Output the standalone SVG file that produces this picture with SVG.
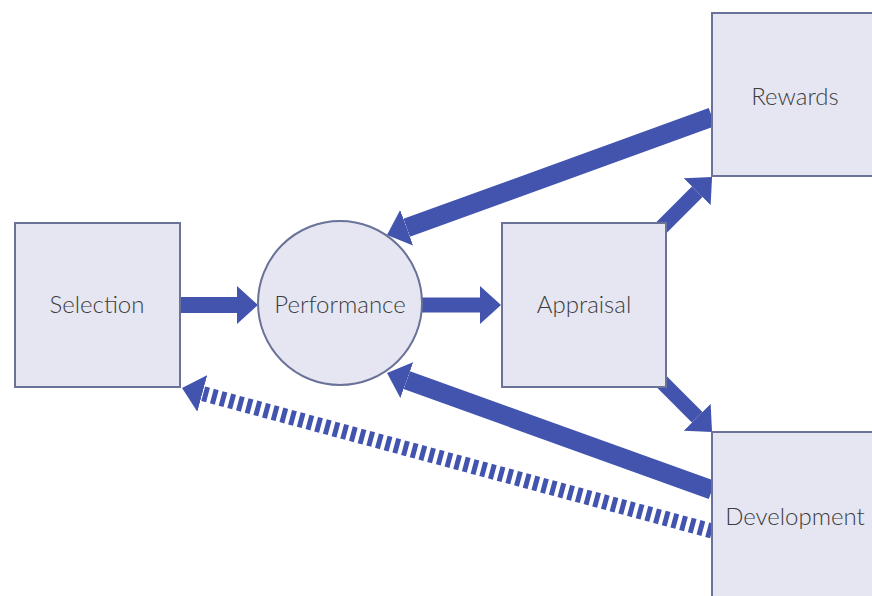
<svg xmlns="http://www.w3.org/2000/svg" width="872" height="596" viewBox="0 0 872 596">
<style>
.node{fill:#e5e6f2;stroke:#6a7298;stroke-width:2}
.lbl{font-family:Lato,"Open Sans","Liberation Sans",sans-serif;font-size:24px;font-weight:300;fill:#3d3d3d;text-anchor:middle;dominant-baseline:central}
.arr{stroke:#4254ae;fill:none;marker-end:url(#head)}
.dash{stroke-dasharray:5 4}
</style>
<defs>
<marker id="head" viewBox="0 -19 21 38" refX="0" refY="0" markerWidth="21" markerHeight="38" markerUnits="userSpaceOnUse" orient="auto">
<path d="M0,-19 L21,0 L0,19 z" fill="#4254ae"/>
</marker>
</defs>
<rect width="872" height="596" fill="#ffffff"/>
<g id="connectors">
<line class="arr" x1="180" y1="305" x2="237" y2="305" stroke-width="16"/>
<line class="arr" x1="422" y1="305" x2="480" y2="305" stroke-width="15"/>
<line class="arr" x1="712" y1="117" x2="406.7" y2="227.8" stroke-width="19"/>
<line class="arr" x1="712" y1="490" x2="406.8" y2="380.1" stroke-width="19"/>
<line class="arr dash" x1="712" y1="531" x2="202.3" y2="393.5" stroke-width="15"/>
<line class="arr" x1="655" y1="234" x2="697.2" y2="191.8" stroke-width="15"/>
<line class="arr" x1="655" y1="375" x2="697.2" y2="417.2" stroke-width="15"/>
</g>
<g id="selection">
<rect class="node" x="15" y="223" width="165" height="164"/>
<text class="lbl" x="97" y="303">Selection</text>
</g>
<g id="performance">
<circle class="node" cx="340" cy="303" r="82"/>
<text class="lbl" x="340" y="303">Performance</text>
</g>
<g id="appraisal">
<rect class="node" x="502" y="223" width="164" height="164"/>
<text class="lbl" x="584" y="303">Appraisal</text>
</g>
<g id="rewards">
<rect class="node" x="712" y="13" width="165" height="163"/>
<text class="lbl" x="795" y="95">Rewards</text>
</g>
<g id="development">
<rect class="node" x="712" y="432" width="165" height="166"/>
<text class="lbl" x="795" y="515">Development</text>
</g>
</svg>
